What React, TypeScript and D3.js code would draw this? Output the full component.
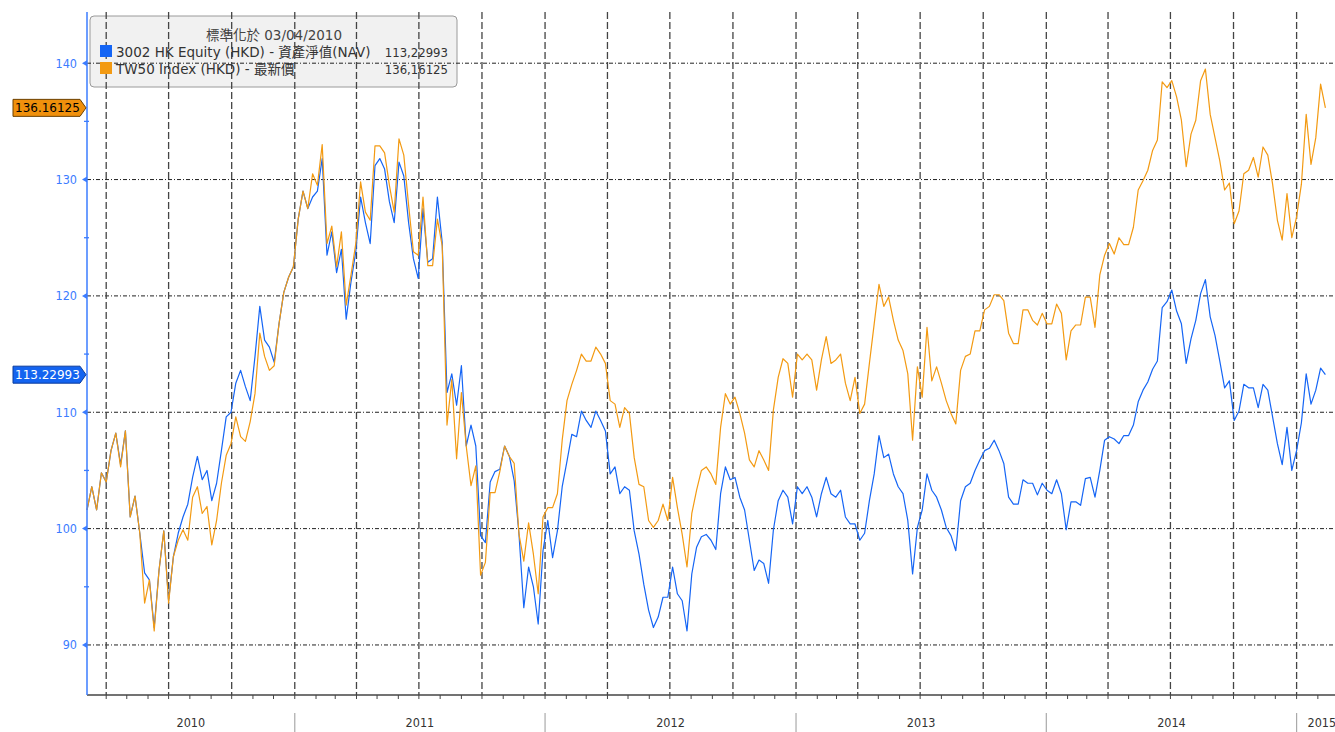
import React from 'react';
import * as d3 from 'd3';

// weekly readings, first week = 2010-03-04 (normalised to 100 there)
const navSeries = [
  101.6, 103.6, 101.6, 104.8, 104.0, 106.7, 108.2, 105.5, 108.4, 101.0,
  102.8, 99.6, 96.2, 95.6, 91.5, 96.4, 99.8, 93.8, 97.6, 99.6,
  101.0, 102.1, 104.4, 106.2, 104.2, 105.0, 102.4, 103.9, 106.7, 109.6,
  110.0, 112.5, 113.6, 112.2, 111.0, 114.8, 119.1, 116.2, 115.6, 114.3,
  117.6, 120.3, 121.6, 122.5, 126.6, 129.0, 127.5, 128.5, 129.0, 131.8,
  123.5, 125.5, 122.0, 124.0, 118.0, 121.2, 123.8, 128.5, 126.3, 124.5,
  131.2, 131.8, 130.9, 128.1, 126.3, 131.5, 130.3, 126.3, 123.2, 121.5,
  127.5, 122.9, 123.2, 128.5, 124.6, 111.7, 113.3, 110.6, 114.0, 107.1,
  108.9, 107.1, 99.4, 98.8, 104.0, 104.9, 105.1, 107.1, 106.2, 104.1,
  99.5, 93.2, 96.7, 95.0, 91.8, 98.1, 100.7, 97.5, 99.8, 103.6,
  105.8, 108.1, 107.9, 110.1, 109.3, 108.7, 110.1, 109.3, 108.4, 104.7,
  105.3, 103.0, 103.6, 103.3, 99.8, 97.8, 95.2, 93.0, 91.5, 92.4,
  94.1, 94.1, 96.7, 94.4, 93.8, 91.2, 96.1, 98.4, 99.3, 99.5,
  99.0, 98.2, 103.0, 105.3, 104.2, 104.4, 102.7, 101.6, 99.0, 96.4,
  97.3, 97.0, 95.3, 99.9, 102.4, 103.3, 102.7, 100.4, 103.6, 103.0,
  103.6, 102.7, 101.0, 103.0, 104.4, 103.0, 102.7, 103.3, 101.0, 100.4,
  100.4, 99.0, 99.6, 102.4, 104.7, 108.0, 106.1, 106.4, 104.7, 103.6,
  103.0, 100.7, 96.1, 100.1, 101.6, 104.7, 103.3, 102.7, 101.6, 100.1,
  99.4, 98.1, 102.4, 103.6, 103.9, 105.0, 105.9, 106.7, 106.9, 107.6,
  106.7, 105.6, 102.7, 102.1, 102.1, 104.2, 103.9, 103.9, 102.9, 103.9,
  103.3, 103.0, 104.2, 103.0, 99.9, 102.3, 102.3, 102.0, 104.3, 104.4,
  102.7, 105.0, 107.6, 107.9, 107.7, 107.3, 108.0, 108.0, 108.9, 110.9,
  111.9, 112.6, 113.7, 114.4, 119.0, 119.5, 120.5, 118.7, 117.6, 114.2,
  116.3, 117.9, 120.2, 121.4, 118.2, 116.6, 114.4, 112.1, 112.7, 109.3,
  110.1, 112.4, 112.1, 112.1, 110.4, 112.4, 111.9, 109.6, 107.3, 105.5,
  108.7, 105.0, 106.7, 109.1, 113.3, 110.7, 111.9, 113.8, 113.22993,
];

const tw50Series = [
  101.6, 103.6, 101.6, 104.8, 104.0, 106.7, 108.2, 105.3, 108.4, 101.0,
  102.8, 99.6, 93.6, 95.6, 91.2, 96.4, 99.8, 93.6, 97.6, 99.0,
  99.9, 99.0, 102.7, 103.6, 101.3, 101.9, 98.6, 100.7, 103.9, 106.3,
  107.3, 109.6, 107.9, 107.5, 109.2, 111.6, 116.8, 114.8, 113.6, 114.0,
  117.6, 120.3, 121.6, 122.5, 126.6, 129.0, 127.5, 130.5, 129.5, 133.0,
  124.5, 126.0, 122.5, 125.5, 119.2, 121.8, 124.5, 129.8, 127.2, 126.5,
  132.9, 132.9, 132.3, 129.5, 127.2, 133.5, 132.1, 127.8, 123.8, 123.5,
  128.5, 122.6, 122.6, 126.6, 124.3, 108.9, 112.8, 106.0, 111.7, 107.1,
  103.7, 105.4, 96.0, 97.1, 103.1, 103.1, 104.9, 107.1, 106.2, 105.6,
  99.5, 97.2, 100.5, 97.8, 94.4, 101.0, 101.8, 101.8, 103.0, 107.6,
  111.0, 112.4, 113.6, 115.0, 114.4, 114.4, 115.6, 115.0, 114.2, 111.0,
  110.7, 108.7, 110.4, 109.9, 106.1, 103.8, 103.6, 100.7, 100.1, 100.7,
  102.1, 100.7, 104.4, 101.8, 99.5, 96.7, 101.3, 103.3, 105.0, 105.3,
  104.7, 103.8, 108.7, 111.6, 110.7, 111.3, 109.9, 108.2, 105.9, 105.3,
  106.7, 105.9, 105.0, 110.2, 113.0, 114.6, 114.2, 111.3, 115.0, 114.5,
  115.0, 114.5, 111.9, 114.5, 116.5, 114.2, 114.5, 115.0, 112.5, 111.0,
  113.0, 109.9, 110.7, 114.2, 117.6, 121.0, 119.1, 119.9, 117.9, 116.2,
  115.3, 113.3, 107.6, 113.9, 111.3, 117.3, 112.7, 113.9, 112.5, 111.0,
  109.9, 109.0, 113.6, 114.8, 115.0, 117.0, 117.0, 118.8, 119.1, 120.1,
  120.1, 119.6, 116.8, 115.9, 115.9, 118.8, 118.8, 117.9, 117.5, 118.5,
  117.6, 117.6, 119.3, 118.5, 114.5, 117.0, 117.5, 117.5, 119.9, 119.9,
  117.3, 121.8, 123.5, 124.5, 123.6, 125.0, 124.4, 124.4, 125.9, 129.1,
  129.9, 130.8, 132.5, 133.4, 138.4, 137.9, 138.5, 137.1, 135.1, 131.1,
  133.9, 135.1, 138.5, 139.5, 135.6, 133.6, 131.6, 129.1, 129.7, 126.2,
  127.3, 130.5, 130.8, 131.9, 130.2, 132.8, 132.1, 129.6, 126.5, 124.8,
  128.8, 125.0, 126.8, 129.6, 135.6, 131.3, 133.6, 138.2, 136.16125,
];

const majorYTicks = [90, 100, 110, 120, 130, 140];
const minorYTicks = [95, 105, 115, 125, 135];

const legendTitle = '標準化於 03/04/2010';
const legendRows = [
  { label: '3002 HK Equity (HKD) - 資產淨值(NAV)', value: '113,22993', tag: '113.22993' },
  { label: 'TW50 Index (HKD) - 最新價', value: '136,16125', tag: '136.16125' },
];

const W = 1335;
const H = 732;
const FONT_C = "'DejaVu Sans Condensed', 'Noto Sans CJK TC', sans-serif";
const FONT = "'DejaVu Sans', 'Noto Sans CJK TC', sans-serif";
const BLUE = '#1565f5';
const ORANGE = '#f39a12';
const AXIS_BLUE = '#3b7cff';

const startDate = new Date(2010, 2, 4);
const endDate = new Date(2015, 1, 26);

export default function App() {
  const left = 87, right = W, top = 12, bottom = 695;

  const x = d3.scaleTime().domain([startDate, endDate]).range([left, right]);
  const y = d3.scaleLinear().domain([85.7, 144.4]).range([bottom, top]);

  const dates = navSeries.map((_, i) => d3.timeDay.offset(startDate, 7 * i));

  const line = d3.line<number>()
    .x((_, i) => x(dates[i]))
    .y(d => y(d));

  const quarters = x.ticks(d3.timeMonth.every(3)!).filter(d => x(d) > left + 2);
  const months = x.ticks(d3.timeMonth.every(1)!);
  const years = [2010, 2011, 2012, 2013, 2014, 2015];

  const series = [
    { values: navSeries, color: BLUE, tagFill: '#1464f0', tagStroke: '#0b3c9c', tagText: '#fff' },
    { values: tw50Series, color: ORANGE, tagFill: '#f0900c', tagStroke: '#6b4000', tagText: '#000' },
  ];

  return (
    <div style={{ position: 'absolute', left: 0, top: 0 }}>
      <svg width={W} height={H} style={{ display: 'block', background: '#fff' }} fontFamily={FONT_C}>
        {/* legend box (gridlines show through it) */}
        <rect x={90} y={16} width={367} height={71} rx={4} fill="#ececec" fillOpacity={0.75} stroke="#9a9a9a" />

        {/* horizontal gridlines */}
        {majorYTicks.map(t => (
          <line key={'h' + t} x1={left} x2={right} y1={y(t)} y2={y(t)}
            stroke="#222" strokeWidth={1} strokeDasharray="4,2,1,2" />
        ))}
        {/* vertical gridlines */}
        {quarters.map(d => (
          <line key={'v' + d.getTime()} x1={x(d)} x2={x(d)} y1={top} y2={bottom}
            stroke="#444" strokeWidth={1.3} strokeDasharray="7,3" />
        ))}

        {/* lines */}
        {series.map((s, k) => (
          <path key={'l' + k} d={line(s.values) || ''} fill="none" stroke={s.color}
            strokeWidth={1.2} strokeLinejoin="round" />
        ))}

        {/* x axis */}
        <line x1={left} x2={right} y1={bottom} y2={bottom} stroke="#444" strokeWidth={1.5} />
        {months.map(d => (
          <line key={'m' + d.getTime()} x1={x(d)} x2={x(d)} y1={bottom} y2={bottom + 4} stroke="#444" />
        ))}
        {years.slice(1).map(yr => {
          const xx = x(new Date(yr, 0, 1));
          return <line key={'ys' + yr} x1={xx} x2={xx} y1={713} y2={H} stroke="#aaa" strokeWidth={1.2} />;
        })}
        {years.map(yr => {
          const a = Math.max(left, x(new Date(yr, 0, 1)));
          const b = Math.min(right, x(new Date(yr + 1, 0, 1)));
          const cx = yr === 2015 ? (a + b) / 2 + 6 : (a + b) / 2;
          return (
            <text key={'yl' + yr} x={cx} y={727} textAnchor="middle" fontSize={12.5} fill="#333">{yr}</text>
          );
        })}

        {/* y axis */}
        <line x1={left} x2={left} y1={top} y2={bottom} stroke={AXIS_BLUE} strokeWidth={1.5} />
        {minorYTicks.map(t => (
          <line key={'mt' + t} x1={left - 3} x2={left + 2} y1={y(t)} y2={y(t)} stroke={AXIS_BLUE} strokeWidth={1.3} />
        ))}
        {majorYTicks.map(t => (
          <g key={'yt' + t}>
            <path d={`M${left - 5},${y(t)} L${left},${y(t) - 3} L${left},${y(t) + 3} Z`} fill={AXIS_BLUE} />
            <text x={77} y={y(t) + 4.5} textAnchor="end" fontSize={12.5} fill={AXIS_BLUE}>{t}</text>
          </g>
        ))}

        {/* last value tags */}
        {series.map((s, k) => {
          const v = s.values[s.values.length - 1];
          const yy = y(v);
          const h = 8.5;
          return (
            <g key={'tag' + k}>
              <path d={`M13,${yy - h} L80,${yy - h} L86,${yy} L80,${yy + h} L13,${yy + h} Z`}
                fill={s.tagFill} stroke={s.tagStroke} strokeWidth={1} />
              <text x={15} y={yy + 4.5} fontSize={12} fontFamily={FONT} fill={s.tagText}>{legendRows[k].tag}</text>
            </g>
          );
        })}

        {/* legend text */}
        <text x={274} y={40} textAnchor="middle" fontSize={13.5} fontFamily={FONT} fill="#444">{legendTitle}</text>
        {legendRows.map((r, k) => (
          <g key={'lg' + k}>
            <rect x={100} y={45 + k * 17} width={12} height={12} fill={series[k].color} />
            <text x={116} y={57 + k * 17} fontSize={13.5} fontFamily={FONT} fill="#333">{r.label}</text>
            <text x={448} y={57 + k * 17} fontSize={13} fill="#333" textAnchor="end">{r.value}</text>
          </g>
        ))}
      </svg>
    </div>
  );
}
